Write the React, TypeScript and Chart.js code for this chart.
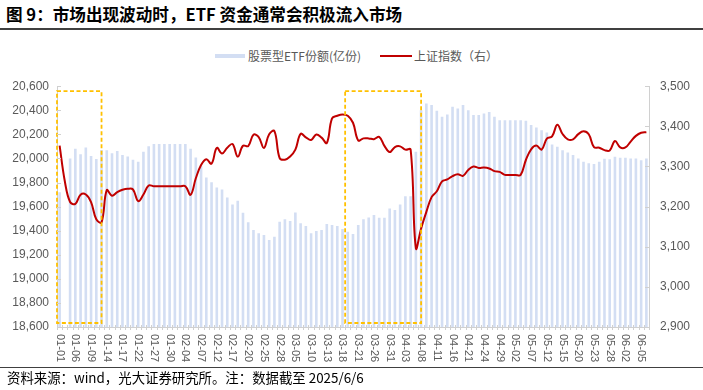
import React, { useEffect, useRef } from 'react';
import { Chart, registerables } from 'chart.js';

Chart.register(...registerables);

const dates: string[] = [
  '01-01','01-02','01-03','01-06','01-07','01-08','01-09','01-10','01-13','01-14','01-15','01-16','01-17','01-20','01-21','01-22','01-23','01-24','01-27','01-28','01-29','01-30','01-31',
  '02-03','02-04','02-05','02-06','02-07','02-10','02-11','02-12','02-13','02-14','02-17','02-18','02-19','02-20','02-21','02-24','02-25','02-26','02-27','02-28',
  '03-03','03-04','03-05','03-06','03-07','03-10','03-11','03-12','03-13','03-14','03-17','03-18','03-19','03-20','03-21','03-24','03-25','03-26','03-27','03-28','03-31',
  '04-01','04-02','04-03','04-04','04-07','04-08','04-09','04-10','04-11','04-14','04-15','04-16','04-17','04-18','04-21','04-22','04-23','04-24','04-25','04-28','04-29','04-30',
  '05-01','05-02','05-05','05-06','05-07','05-08','05-09','05-12','05-13','05-14','05-15','05-16','05-19','05-20','05-21','05-22','05-23','05-26','05-27','05-28','05-29','05-30',
  '06-02','06-03','06-04','06-05','06-06',
];

// 股票型ETF份额(亿份)
const etfShares: (number | null)[] = [
  19720, null, 20000, 20080, 20035, 20090, 20020, 19995, 20070, 20068,
  20044, 20061, 20028, 20017, 19989, 19972, 20055, 20102, 20120, 20120,
  20120, 20120, 20120, 20120, 20120, 20080, 20008, 19936, 19842, 19803,
  19759, 19743, 19676, 19618, 19648, 19549, 19469, 19405, 19378, 19364,
  19322, 19350, 19474, 19494, 19480, 19552, 19461, 19438, 19378, 19397,
  19405, 19455, 19447, 19438, 19413, 19391, 19372, 19447, 19494, 19510,
  19530, 19507, 19507, 19585, 19571, 19618, 19685, 19685, 20055, 20400,
  20457, 20443, 20396, 20346, 20365, 20429, 20415, 20443, 20401, 20360,
  20360, 20373, 20385, 20346, 20318, 20318, 20318, 20318, 20318, 20313,
  20277, 20257, 20235, 20216, 20116, 20097, 20069, 20050, 20028, 20000,
  19972, 19961, 19953, 19972, 19997, 19994, 20013, 20005, 20005, 20000,
  20000, 19986, 20000,
];

// 上证指数（右）
const shIndex: number[] = [
  3351.76, 3262.56, 3211.43, 3206.92, 3229.64, 3230.17, 3211.39, 3168.52, 3160.76, 3240.94,
  3227.12, 3236.03, 3241.82, 3244.38, 3242.62, 3213.62, 3230.16, 3252.63, 3250.60, 3250.60,
  3250.60, 3250.60, 3250.60, 3250.60, 3250.60, 3229.49, 3270.66, 3303.67, 3318.06, 3307.04,
  3346.39, 3332.48, 3346.72, 3355.83, 3324.49, 3351.54, 3350.78, 3379.11, 3373.03, 3346.04,
  3380.21, 3388.06, 3320.90, 3316.93, 3324.73, 3341.96, 3381.10, 3372.55, 3366.16, 3379.83,
  3371.92, 3358.73, 3419.56, 3426.43, 3429.76, 3426.43, 3408.95, 3364.83, 3370.03, 3369.98,
  3368.07, 3373.75, 3351.31, 3335.75, 3348.44, 3350.13, 3342.01, 3342.01, 3096.58, 3145.55,
  3186.81, 3223.64, 3238.23, 3262.81, 3267.66, 3276.00, 3280.34, 3276.73, 3291.43, 3299.76,
  3296.36, 3297.29, 3295.06, 3288.41, 3286.65, 3279.03, 3279.03, 3279.03, 3279.03, 3316.11,
  3342.67, 3352.00, 3342.00, 3369.24, 3374.87, 3403.95, 3380.82, 3367.46, 3367.58, 3380.48,
  3387.57, 3380.19, 3348.37, 3346.84, 3340.69, 3339.93, 3363.45, 3347.49, 3347.49, 3361.98,
  3376.20, 3384.10, 3385.36,
];

const leftTicks = [18600, 20600, 200];   // min, max, step
const rightTicks = [2900, 3500, 100];    // min, max, step
const highlightRanges: [string, string][] = [['01-01', '01-13'], ['03-19', '04-08']];
const labelEvery = 3;

const BAR_COLOR = '#D3DEF3';
const LINE_COLOR = '#C00000';
const BOX_COLOR = '#FFC000';
const AXIS_COLOR = '#D0D0D0';
const TEXT_GRAY = '#595959';
const LATIN = "'Liberation Sans', Arial, sans-serif";
const CJK = "'Noto Sans CJK SC', 'Noto Sans', sans-serif";

const overlayPlugin = {
  id: 'overlay',
  afterDatasetsDraw(chart: any) {
    const { ctx, chartArea, scales } = chart;
    const x = scales.x;
    const step = x.getPixelForValue(1) - x.getPixelForValue(0);
    ctx.save();
    ctx.strokeStyle = BOX_COLOR;
    ctx.lineWidth = 1.8;
    ctx.setLineDash([4, 2.5]);
    highlightRanges.forEach(([s, e]) => {
      const a = dates.indexOf(s);
      const b = dates.indexOf(e);
      const left = x.getPixelForValue(a) - step / 2;
      const right = x.getPixelForValue(b);
      const top = chartArea.top + 5;
      const bottom = chartArea.bottom - 4;
      ctx.strokeRect(left, top, right - left, bottom - top);
    });
    ctx.restore();
  },
  afterDraw(chart: any) {
    const { ctx, chartArea, scales } = chart;
    const x = scales.x;
    const step = x.getPixelForValue(1) - x.getPixelForValue(0);
    ctx.save();
    ctx.strokeStyle = AXIS_COLOR;
    ctx.lineWidth = 1;
    scales.y.ticks.forEach((t: any) => {
      const py = Math.round(scales.y.getPixelForValue(t.value)) + 0.5;
      ctx.beginPath();
      ctx.moveTo(chartArea.left, py);
      ctx.lineTo(chartArea.left + 4, py);
      ctx.stroke();
    });
    scales.y1.ticks.forEach((t: any) => {
      const py = Math.round(scales.y1.getPixelForValue(t.value)) + 0.5;
      ctx.beginPath();
      ctx.moveTo(chartArea.right - 4, py);
      ctx.lineTo(chartArea.right, py);
      ctx.stroke();
    });
    for (let i = 0; i <= dates.length; i++) {
      const px = Math.round(x.getPixelForValue(0) - step / 2 + i * step) + 0.5;
      ctx.beginPath();
      ctx.moveTo(px, chartArea.bottom - 2);
      ctx.lineTo(px, chartArea.bottom + 3);
      ctx.stroke();
    }
    ctx.fillStyle = TEXT_GRAY;
    ctx.font = `11px ${LATIN}`;
    ctx.textAlign = 'left';
    ctx.textBaseline = 'middle';
    dates.forEach((d, i) => {
      if (i % labelEvery !== 0) return;
      const px = x.getPixelForValue(i);
      ctx.save();
      ctx.translate(px, chartArea.bottom + 7);
      ctx.rotate(Math.PI / 2);
      ctx.fillText(d, 0, 0);
      ctx.restore();
    });
    ctx.restore();
  },
};

export default function App() {
  const ref = useRef<HTMLCanvasElement>(null);

  useEffect(() => {
    if (!ref.current) return;
    const chart = new Chart(ref.current, {
      type: 'bar',
      data: {
        labels: dates,
        datasets: [
          {
            type: 'line',
            label: '上证指数（右）',
            data: shIndex,
            yAxisID: 'y1',
            borderColor: LINE_COLOR,
            backgroundColor: LINE_COLOR,
            borderWidth: 2,
            pointRadius: 0,
            tension: 0.4,
            order: 0,
          } as any,
          {
            type: 'bar',
            label: '股票型ETF份额(亿份)',
            data: etfShares,
            yAxisID: 'y',
            backgroundColor: BAR_COLOR,
            borderWidth: 0,
            barPercentage: 0.5,
            categoryPercentage: 1.0,
            order: 1,
          } as any,
        ],
      },
      options: {
        responsive: false,
        animation: false,
        devicePixelRatio: 1,
        layout: { padding: { top: 18, left: 0, right: 0, bottom: 0 } },
        plugins: { legend: { display: false }, tooltip: { enabled: false } },
        scales: {
          x: {
            type: 'category',
            offset: true,
            grid: { display: true, drawOnChartArea: false, drawTicks: false },
            border: { display: true, color: AXIS_COLOR },
            ticks: { display: false },
            afterFit: (s: any) => { s.height = 41; },
          },
          y: {
            type: 'linear',
            position: 'left',
            min: leftTicks[0],
            max: leftTicks[1],
            grid: { display: true, drawOnChartArea: false, drawTicks: false },
            border: { display: true, color: AXIS_COLOR },
            ticks: {
              stepSize: leftTicks[2],
              padding: 8,
              color: TEXT_GRAY,
              font: { family: LATIN, size: 12 },
              callback: (v: any) => Number(v).toLocaleString('en-US'),
            },
            afterFit: (s: any) => { s.width = 57; },
          },
          y1: {
            type: 'linear',
            position: 'right',
            min: rightTicks[0],
            max: rightTicks[1],
            grid: { display: true, drawOnChartArea: false, drawTicks: false },
            border: { display: true, color: AXIS_COLOR },
            ticks: {
              stepSize: rightTicks[2],
              padding: 11,
              color: TEXT_GRAY,
              font: { family: LATIN, size: 12 },
              callback: (v: any) => Number(v).toLocaleString('en-US'),
            },
            afterFit: (s: any) => { s.width = 54; },
          },
        },
      },
      plugins: [overlayPlugin],
    });
    return () => chart.destroy();
  }, []);

  return (
    <div style={{ position: 'fixed', left: 0, top: 0, width: 703, height: 390, background: '#fff', overflow: 'hidden', fontFamily: CJK }}>
      <div style={{ position: 'absolute', left: 6, top: 3, fontSize: 16.6, fontWeight: 700, lineHeight: '22px', color: '#000', whiteSpace: 'nowrap' }}>
        图 9：市场出现波动时，ETF 资金通常会积极流入市场
      </div>
      <div style={{ position: 'absolute', left: 0, top: 28, width: 703, height: 2, background: '#404040' }} />

      <div style={{ position: 'absolute', left: 215, top: 54, width: 30, height: 4, background: BAR_COLOR }} />
      <div style={{ position: 'absolute', left: 248, top: 48, fontSize: 12, lineHeight: '16px', color: TEXT_GRAY, whiteSpace: 'nowrap' }}>
        股票型ETF份额(亿份)
      </div>
      <div style={{ position: 'absolute', left: 380, top: 55, width: 32, height: 2, background: LINE_COLOR }} />
      <div style={{ position: 'absolute', left: 414, top: 48, fontSize: 12, lineHeight: '16px', color: TEXT_GRAY, whiteSpace: 'nowrap' }}>
        上证指数（右）
      </div>

      <canvas ref={ref} width={703} height={300} style={{ position: 'absolute', left: 0, top: 68, width: 703, height: 300 }} />

      <div style={{ position: 'absolute', left: 0, top: 367, width: 703, height: 1, background: '#404040' }} />
      <div style={{ position: 'absolute', left: 7, top: 368, fontSize: 13.4, lineHeight: '18px', color: '#000', whiteSpace: 'nowrap' }}>
        资料来源：wind，光大证券研究所。注：数据截至 2025/6/6
      </div>
    </div>
  );
}
